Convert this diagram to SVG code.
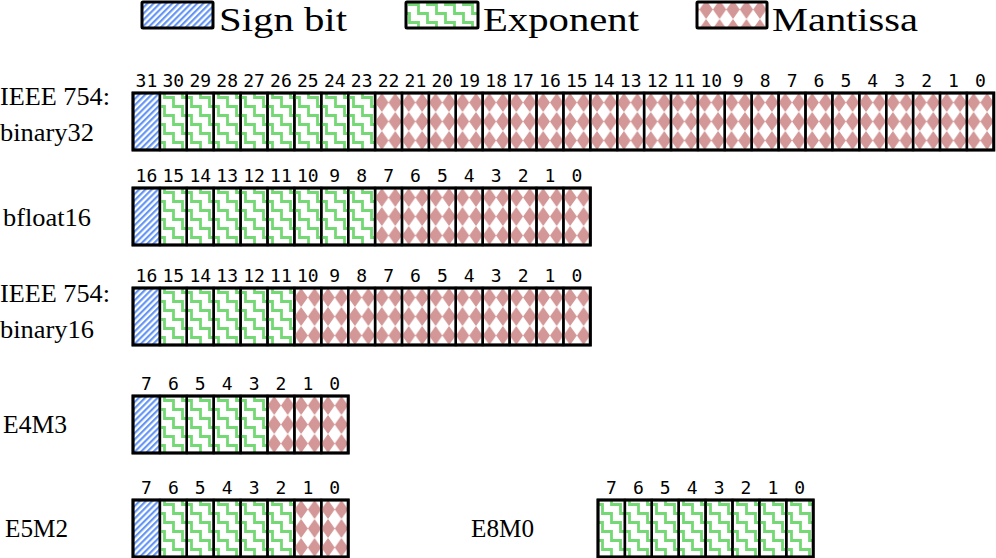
<svg xmlns="http://www.w3.org/2000/svg" width="996" height="558" viewBox="0 0 996 558">
<defs>
<pattern id="pS" patternUnits="userSpaceOnUse" width="4.4" height="4.4" patternTransform="rotate(45)"><line x1="1.1" y1="-1" x2="1.1" y2="6" stroke="#6092f4" stroke-width="2.1"/></pattern>
<path id="stair" d="M-40.5,-31.5 H-31.5 V-22.5 H-22.5 V-13.5 H-13.5 V-4.5 H-4.5 V4.5 H4.5 V13.5 H13.5 V22.5 H22.5 V31.5 H31.5 V40.5"/>
<pattern id="pE" patternUnits="userSpaceOnUse" width="18" height="18"><g fill="none" stroke="#74d874" stroke-width="2.8"><use href="#stair" y="-18"/><use href="#stair"/><use href="#stair" y="18"/></g></pattern>
<pattern id="pM" patternUnits="userSpaceOnUse" width="13.45" height="19"><polygon points="6.725,0 13.45,9.5 6.725,19 0,9.5" fill="#d49797"/></pattern>
</defs>
<style>
.c{stroke:#000;stroke-width:2.4}
.s{fill:url(#pS)}
.e{fill:url(#pE)}
.m{fill:url(#pM)}
.o{fill:none;stroke:#000;stroke-width:3}
.n{font-family:"DejaVu Sans Mono",monospace;font-size:18px;text-anchor:middle;fill:#000}
.l{font-family:"Liberation Serif",serif;font-size:25px;fill:#000}
.g{font-family:"Liberation Serif",serif;font-size:34px;fill:#000}
</style>
<rect width="996" height="558" fill="#fff"/>
<g id="legend">
<rect x="142" y="2" width="71" height="26" rx="1" class="o" style="fill:url(#pS)"/>
<text class="g" x="219" y="30.5" textLength="128" lengthAdjust="spacingAndGlyphs">Sign bit</text>
<rect x="406" y="2" width="72" height="26" rx="1" class="o" style="fill:url(#pE)"/>
<text class="g" x="483" y="30.5" textLength="156" lengthAdjust="spacingAndGlyphs">Exponent</text>
<rect x="697" y="2" width="70" height="26" rx="1" class="o" style="fill:url(#pM)"/>
<text class="g" x="772" y="30.5" textLength="146" lengthAdjust="spacingAndGlyphs">Mantissa</text>
</g>
<g id="connectors"></g>
<g id="binary32">
<text class="l" x="0" y="105" textLength="110" lengthAdjust="spacingAndGlyphs">IEEE 754:</text>
<text class="l" x="0" y="141" textLength="94" lengthAdjust="spacingAndGlyphs">binary32</text>
<g transform="translate(133,93)">
<rect class="c s" x="0" width="26.9" height="57"/>
<rect class="c e" x="26.9" width="26.9" height="57"/>
<rect class="c e" x="53.8" width="26.9" height="57"/>
<rect class="c e" x="80.7" width="26.9" height="57"/>
<rect class="c e" x="107.6" width="26.9" height="57"/>
<rect class="c e" x="134.5" width="26.9" height="57"/>
<rect class="c e" x="161.4" width="26.9" height="57"/>
<rect class="c e" x="188.3" width="26.9" height="57"/>
<rect class="c e" x="215.2" width="26.9" height="57"/>
<rect class="c m" x="242.1" width="26.9" height="57"/>
<rect class="c m" x="269" width="26.9" height="57"/>
<rect class="c m" x="295.9" width="26.9" height="57"/>
<rect class="c m" x="322.8" width="26.9" height="57"/>
<rect class="c m" x="349.7" width="26.9" height="57"/>
<rect class="c m" x="376.6" width="26.9" height="57"/>
<rect class="c m" x="403.5" width="26.9" height="57"/>
<rect class="c m" x="430.4" width="26.9" height="57"/>
<rect class="c m" x="457.3" width="26.9" height="57"/>
<rect class="c m" x="484.2" width="26.9" height="57"/>
<rect class="c m" x="511.1" width="26.9" height="57"/>
<rect class="c m" x="538" width="26.9" height="57"/>
<rect class="c m" x="564.9" width="26.9" height="57"/>
<rect class="c m" x="591.8" width="26.9" height="57"/>
<rect class="c m" x="618.7" width="26.9" height="57"/>
<rect class="c m" x="645.6" width="26.9" height="57"/>
<rect class="c m" x="672.5" width="26.9" height="57"/>
<rect class="c m" x="699.4" width="26.9" height="57"/>
<rect class="c m" x="726.3" width="26.9" height="57"/>
<rect class="c m" x="753.2" width="26.9" height="57"/>
<rect class="c m" x="780.1" width="26.9" height="57"/>
<rect class="c m" x="807" width="26.9" height="57"/>
<rect class="c m" x="833.9" width="26.9" height="57"/>
<rect class="o" width="860.8" height="57"/>
<text class="n" y="-6"><tspan x="13.45">31</tspan><tspan x="40.35">30</tspan><tspan x="67.25">29</tspan><tspan x="94.15">28</tspan><tspan x="121.05">27</tspan><tspan x="147.95">26</tspan><tspan x="174.85">25</tspan><tspan x="201.75">24</tspan><tspan x="228.65">23</tspan><tspan x="255.55">22</tspan><tspan x="282.45">21</tspan><tspan x="309.35">20</tspan><tspan x="336.25">19</tspan><tspan x="363.15">18</tspan><tspan x="390.05">17</tspan><tspan x="416.95">16</tspan><tspan x="443.85">15</tspan><tspan x="470.75">14</tspan><tspan x="497.65">13</tspan><tspan x="524.55">12</tspan><tspan x="551.45">11</tspan><tspan x="578.35">10</tspan><tspan x="605.25">9</tspan><tspan x="632.15">8</tspan><tspan x="659.05">7</tspan><tspan x="685.95">6</tspan><tspan x="712.85">5</tspan><tspan x="739.75">4</tspan><tspan x="766.65">3</tspan><tspan x="793.55">2</tspan><tspan x="820.45">1</tspan><tspan x="847.35">0</tspan></text>
</g>
</g>
<g id="bfloat16">
<text class="l" x="3" y="226" textLength="88" lengthAdjust="spacingAndGlyphs">bfloat16</text>
<g transform="translate(133,188)">
<rect class="c s" x="0" width="26.9" height="57"/>
<rect class="c e" x="26.9" width="26.9" height="57"/>
<rect class="c e" x="53.8" width="26.9" height="57"/>
<rect class="c e" x="80.7" width="26.9" height="57"/>
<rect class="c e" x="107.6" width="26.9" height="57"/>
<rect class="c e" x="134.5" width="26.9" height="57"/>
<rect class="c e" x="161.4" width="26.9" height="57"/>
<rect class="c e" x="188.3" width="26.9" height="57"/>
<rect class="c e" x="215.2" width="26.9" height="57"/>
<rect class="c m" x="242.1" width="26.9" height="57"/>
<rect class="c m" x="269" width="26.9" height="57"/>
<rect class="c m" x="295.9" width="26.9" height="57"/>
<rect class="c m" x="322.8" width="26.9" height="57"/>
<rect class="c m" x="349.7" width="26.9" height="57"/>
<rect class="c m" x="376.6" width="26.9" height="57"/>
<rect class="c m" x="403.5" width="26.9" height="57"/>
<rect class="c m" x="430.4" width="26.9" height="57"/>
<rect class="o" width="457.3" height="57"/>
<text class="n" y="-6"><tspan x="13.45">16</tspan><tspan x="40.35">15</tspan><tspan x="67.25">14</tspan><tspan x="94.15">13</tspan><tspan x="121.05">12</tspan><tspan x="147.95">11</tspan><tspan x="174.85">10</tspan><tspan x="201.75">9</tspan><tspan x="228.65">8</tspan><tspan x="255.55">7</tspan><tspan x="282.45">6</tspan><tspan x="309.35">5</tspan><tspan x="336.25">4</tspan><tspan x="363.15">3</tspan><tspan x="390.05">2</tspan><tspan x="416.95">1</tspan><tspan x="443.85">0</tspan></text>
</g>
</g>
<g id="binary16">
<text class="l" x="0" y="302" textLength="110" lengthAdjust="spacingAndGlyphs">IEEE 754:</text>
<text class="l" x="0" y="338" textLength="94" lengthAdjust="spacingAndGlyphs">binary16</text>
<g transform="translate(133,288)">
<rect class="c s" x="0" width="26.9" height="57"/>
<rect class="c e" x="26.9" width="26.9" height="57"/>
<rect class="c e" x="53.8" width="26.9" height="57"/>
<rect class="c e" x="80.7" width="26.9" height="57"/>
<rect class="c e" x="107.6" width="26.9" height="57"/>
<rect class="c e" x="134.5" width="26.9" height="57"/>
<rect class="c m" x="161.4" width="26.9" height="57"/>
<rect class="c m" x="188.3" width="26.9" height="57"/>
<rect class="c m" x="215.2" width="26.9" height="57"/>
<rect class="c m" x="242.1" width="26.9" height="57"/>
<rect class="c m" x="269" width="26.9" height="57"/>
<rect class="c m" x="295.9" width="26.9" height="57"/>
<rect class="c m" x="322.8" width="26.9" height="57"/>
<rect class="c m" x="349.7" width="26.9" height="57"/>
<rect class="c m" x="376.6" width="26.9" height="57"/>
<rect class="c m" x="403.5" width="26.9" height="57"/>
<rect class="c m" x="430.4" width="26.9" height="57"/>
<rect class="o" width="457.3" height="57"/>
<text class="n" y="-6"><tspan x="13.45">16</tspan><tspan x="40.35">15</tspan><tspan x="67.25">14</tspan><tspan x="94.15">13</tspan><tspan x="121.05">12</tspan><tspan x="147.95">11</tspan><tspan x="174.85">10</tspan><tspan x="201.75">9</tspan><tspan x="228.65">8</tspan><tspan x="255.55">7</tspan><tspan x="282.45">6</tspan><tspan x="309.35">5</tspan><tspan x="336.25">4</tspan><tspan x="363.15">3</tspan><tspan x="390.05">2</tspan><tspan x="416.95">1</tspan><tspan x="443.85">0</tspan></text>
</g>
</g>
<g id="E4M3">
<text class="l" x="3" y="433" textLength="64" lengthAdjust="spacingAndGlyphs">E4M3</text>
<g transform="translate(133,396)">
<rect class="c s" x="0" width="26.9" height="57"/>
<rect class="c e" x="26.9" width="26.9" height="57"/>
<rect class="c e" x="53.8" width="26.9" height="57"/>
<rect class="c e" x="80.7" width="26.9" height="57"/>
<rect class="c e" x="107.6" width="26.9" height="57"/>
<rect class="c m" x="134.5" width="26.9" height="57"/>
<rect class="c m" x="161.4" width="26.9" height="57"/>
<rect class="c m" x="188.3" width="26.9" height="57"/>
<rect class="o" width="215.2" height="57"/>
<text class="n" y="-6"><tspan x="13.45">7</tspan><tspan x="40.35">6</tspan><tspan x="67.25">5</tspan><tspan x="94.15">4</tspan><tspan x="121.05">3</tspan><tspan x="147.95">2</tspan><tspan x="174.85">1</tspan><tspan x="201.75">0</tspan></text>
</g>
</g>
<g id="E5M2">
<text class="l" x="5" y="537" textLength="63" lengthAdjust="spacingAndGlyphs">E5M2</text>
<g transform="translate(133,500)">
<rect class="c s" x="0" width="26.9" height="57"/>
<rect class="c e" x="26.9" width="26.9" height="57"/>
<rect class="c e" x="53.8" width="26.9" height="57"/>
<rect class="c e" x="80.7" width="26.9" height="57"/>
<rect class="c e" x="107.6" width="26.9" height="57"/>
<rect class="c e" x="134.5" width="26.9" height="57"/>
<rect class="c m" x="161.4" width="26.9" height="57"/>
<rect class="c m" x="188.3" width="26.9" height="57"/>
<rect class="o" width="215.2" height="57"/>
<text class="n" y="-6"><tspan x="13.45">7</tspan><tspan x="40.35">6</tspan><tspan x="67.25">5</tspan><tspan x="94.15">4</tspan><tspan x="121.05">3</tspan><tspan x="147.95">2</tspan><tspan x="174.85">1</tspan><tspan x="201.75">0</tspan></text>
</g>
</g>
<g id="E8M0">
<text class="l" x="471" y="537" textLength="63" lengthAdjust="spacingAndGlyphs">E8M0</text>
<g transform="translate(598,500)">
<rect class="c e" x="0" width="26.9" height="57"/>
<rect class="c e" x="26.9" width="26.9" height="57"/>
<rect class="c e" x="53.8" width="26.9" height="57"/>
<rect class="c e" x="80.7" width="26.9" height="57"/>
<rect class="c e" x="107.6" width="26.9" height="57"/>
<rect class="c e" x="134.5" width="26.9" height="57"/>
<rect class="c e" x="161.4" width="26.9" height="57"/>
<rect class="c e" x="188.3" width="26.9" height="57"/>
<rect class="o" width="215.2" height="57"/>
<text class="n" y="-6"><tspan x="13.45">7</tspan><tspan x="40.35">6</tspan><tspan x="67.25">5</tspan><tspan x="94.15">4</tspan><tspan x="121.05">3</tspan><tspan x="147.95">2</tspan><tspan x="174.85">1</tspan><tspan x="201.75">0</tspan></text>
</g>
</g>
</svg>
